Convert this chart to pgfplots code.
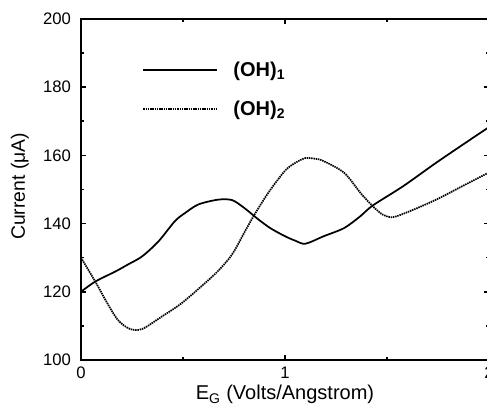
\documentclass[border=0pt]{standalone}
\usepackage{pgfplots}
\pgfplotsset{compat=1.18}
\usepackage{fontspec}
\setmainfont{Liberation Sans}

\begin{document}
\begin{tikzpicture}
% reference is cropped just left of the right spine
\useasboundingbox (-60.75pt,-37.5pt) rectangle (304.5pt,270pt);
\begin{axis}[
    scale only axis,
    width=306pt, height=255.75pt,
    xmin=0, xmax=2, ymin=100, ymax=200,
    xtick={0,1,2}, ytick={100,120,...,200},
    minor x tick num=1, minor y tick num=1,
    major tick length=4pt, minor tick length=2.5pt,
    axis line style={line width=1.5pt},
    every tick/.style={line width=1.2pt, black},
    tick label style={font=\fontsize{12.5}{14}\selectfont},
    /pgf/number format/assume math mode=true,
    yticklabel style={xshift=-4pt},
    xticklabel style={yshift=-4pt, inner sep=1pt},
    xlabel={E\textsubscript{G} (Volts/Angstrom)},
    ylabel={Current (μA)},
    xlabel style={font=\fontsize{15}{17}\selectfont, at={(axis description cs:0.5,0)}, anchor=base, yshift=-30pt},
    ylabel style={font=\fontsize{14.5}{16}\selectfont, at={(axis description cs:-0.15,0.509)}, anchor=center},
    legend style={draw=none, fill=none, at={(axis description cs:0.14,0.89)},
        anchor=north west, row sep=12.5pt, column sep=10pt,
        font=\fontsize{15}{17}\selectfont\bfseries},
    legend cell align=left,
    legend image code/.code={\draw[#1] (0pt,0pt) -- (55pt,0pt);},
]
\addplot[black, line width=1.3pt, smooth] coordinates {
    (0,120) (0.07,123) (0.17,126) (0.23,128) (0.30,130.4) (0.38,134.8)
    (0.46,140.7) (0.51,143.1) (0.575,145.6) (0.67,147) (0.74,146.9)
    (0.80,144.6) (0.87,141.2) (0.93,138.6) (1.0,136.3) (1.05,135)
    (1.10,134.1) (1.19,136.3) (1.29,138.7) (1.37,142.2) (1.43,145.3)
    (1.58,151) (1.74,157.8) (1.91,164.7) (2.0,168.3)
};
\addlegendentry{(OH)\textsubscript{1}}
\addplot[black, line width=1.3pt, dash pattern=on 1.1pt off 0.6pt, smooth] coordinates {
    (0,130) (0.07,123) (0.12,117.6) (0.18,111.8) (0.24,109.1) (0.30,109.1)
    (0.395,112.7) (0.49,116.5) (0.59,121.6) (0.67,126) (0.74,130.9)
    (0.80,137.3) (0.85,142.6) (0.92,149.2) (1.0,155.5) (1.05,157.8)
    (1.10,159.2) (1.15,159) (1.19,158.3) (1.29,154.9) (1.37,149)
    (1.43,145.1) (1.48,142.6) (1.53,141.9) (1.61,143.6) (1.74,147)
    (1.87,151) (2.0,155)
};
\addlegendentry{(OH)\textsubscript{2}}
\end{axis}
\end{tikzpicture}
\end{document}
